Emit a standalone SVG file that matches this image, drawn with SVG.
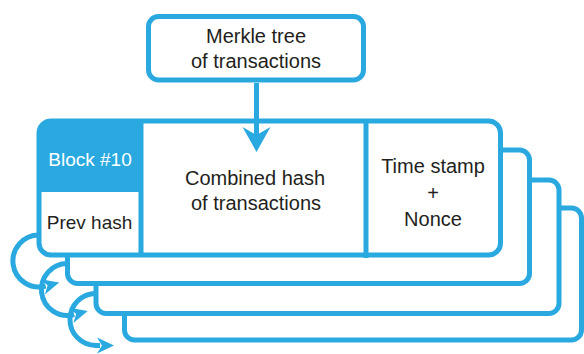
<svg xmlns="http://www.w3.org/2000/svg" width="584" height="354" viewBox="0 0 584 354">
  <style>
    .frame { fill: #FFFFFF; stroke: #29A9E0; stroke-width: 5; }
    .rule { stroke: #29A9E0; stroke-width: 5; fill: none; }
    .link { stroke: #29A9E0; stroke-width: 5; fill: none; }
    .label { font-family: "Liberation Sans", Arial, sans-serif; font-size: 20px; fill: #231F20; text-anchor: middle; }
    .small { font-size: 19px; }
    .inverse { fill: #FFFFFF; }
  </style>
  <defs>
    <marker id="headLarge" markerUnits="userSpaceOnUse" viewBox="-26 -15 28 30" markerWidth="28" markerHeight="30" refX="-12" refY="0" orient="auto">
      <path d="M0,0 L-25,-14 L-17,0 L-25,14 Z" fill="#29A9E0"/>
    </marker>
    <marker id="headSmall" markerUnits="userSpaceOnUse" viewBox="-18 -9 20 18" markerWidth="20" markerHeight="18" refX="-14" refY="0" orient="auto">
      <path d="M0,0 L-17,-8 L-12,0 L-17,8 Z" fill="#29A9E0"/>
    </marker>
  </defs>

  <!-- earlier blocks stacked behind -->
  <g id="block-7">
    <rect class="frame" x="124.5" y="208" width="457" height="132" rx="10"/>
  </g>
  <g id="block-8">
    <rect class="frame" x="96" y="180" width="463" height="133.5" rx="10"/>
  </g>
  <g id="block-9">
    <rect class="frame" x="67.5" y="150" width="462" height="133.5" rx="10"/>
  </g>

  <!-- current block -->
  <g id="block-10">
    <rect class="frame" x="39" y="121" width="461.5" height="134" rx="12"/>
    <path d="M39,192 V133 A12,12 0 0 1 51,121 H141 V192 Z" fill="#29A9E0"/>
    <line class="rule" x1="141" y1="121" x2="141" y2="255"/>
    <line class="rule" x1="366" y1="121" x2="366" y2="258"/>
    <text class="label small inverse" x="90" y="166">Block #10</text>
    <text class="label small" x="89.5" y="229">Prev hash</text>
    <text class="label" x="255" y="185">Combined hash</text>
    <text class="label" x="256" y="210">of transactions</text>
    <text class="label" x="433" y="173">Time stamp</text>
    <text class="label" x="433" y="200">+</text>
    <text class="label" x="433" y="226">Nonce</text>
  </g>

  <!-- merkle root source -->
  <g id="merkle-tree">
    <rect class="frame" x="148.5" y="16.5" width="215" height="63.5" rx="10" stroke-width="6"/>
    <text class="label" x="256" y="43">Merkle tree</text>
    <text class="label" x="256" y="68">of transactions</text>
  </g>

  <!-- connectors: merkle root into the block, prev-hash links to earlier blocks -->
  <g id="connectors">
    <path class="link" d="M256.5,83 V140" marker-end="url(#headLarge)"/>
    <path class="link" d="M39,235 A26,26 0 1 0 45.7,286.1" marker-end="url(#headSmall)"/>
    <path class="link" d="M67.5,263.5 A26,26 0 1 0 74.2,314.6" marker-end="url(#headSmall)"/>
    <path class="link" d="M96,293.5 A26,26 0 1 0 95.9,345.5 L100,345.5" marker-end="url(#headSmall)"/>
  </g>
</svg>
